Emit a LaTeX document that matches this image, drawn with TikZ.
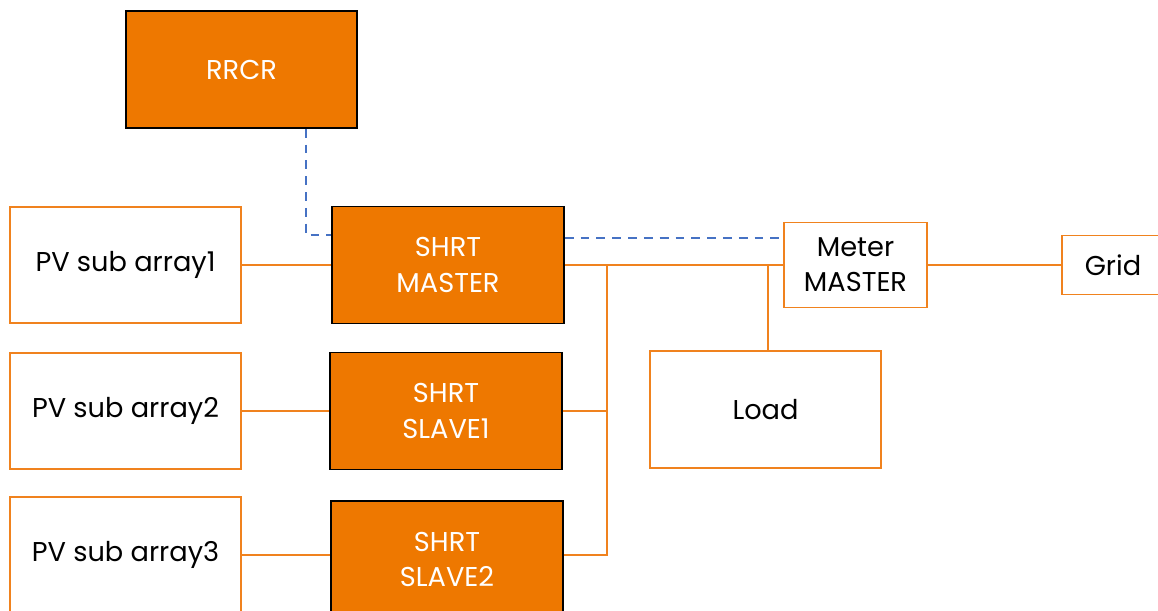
\documentclass[tikz,border=0pt]{standalone}
\usepackage{fontspec}
\setmainfont{Poppins}
\definecolor{boxorange}{RGB}{238,120,0}
\definecolor{lineorange}{RGB}{240,130,30}
\definecolor{ctrlblue}{RGB}{70,114,196}

\begin{document}
\begin{tikzpicture}[x = 0.02cm, y = -0.02cm,
    unit/.style = {draw = black, line width = 1pt, fill = boxorange, text = white,
      align = center, inner sep = 0pt, font = \fontsize{15.5}{20}\selectfont},
    plain/.style = {draw = lineorange, line width = .8pt, fill = white, text = black,
      align = center, inner sep = 0pt, font = \fontsize{15.5}{20}\selectfont},
    power/.style = {draw = lineorange, line width = 0.04cm},
    ctrl/.style = {draw = ctrlblue, line width = 0.04cm, dash pattern = on 5pt off 4pt}]

    \useasboundingbox (0,0) rectangle (1158,611);
    \clip (0,0) rectangle (1158,611);

    % boxes
    \node [unit, minimum width = 4.62cm, minimum height = 2.34cm] (rrcr) at (241.5, 69.5) {RRCR};
    \node [unit, minimum width = 4.64cm, minimum height = 2.34cm] (master) at (448, 265) {SHRT\\MASTER};
    \node [unit, minimum width = 4.64cm, minimum height = 2.34cm] (slave1) at (446, 411) {SHRT\\SLAVE1};
    \node [unit, minimum width = 4.64cm, minimum height = 2.34cm] (slave2) at (447, 559.5) {SHRT\\SLAVE2};
    \foreach \i/\y in {1/265, 2/411, 3/555} {
      \node [plain, minimum width = 4.62cm, minimum height = 2.32cm] (pv\i) at (125.5, \y) {PV sub array\i};
    }
    \node [plain, minimum width = 2.86cm, minimum height = 1.7cm] (meter) at (855.5, 265) {Meter\\MASTER};
    \node [plain, minimum width = 4.62cm, minimum height = 2.34cm] (load) at (765.5, 409.5) {Load};
    \node [plain, minimum width = 2.04cm, minimum height = 1.18cm] (grid) at (1113, 265) {Grid};

    % power lines
    \coordinate (bus) at (607, 265);
    \draw [power] (pv1.east) -- (master.west);
    \draw [power] (pv2.east) -- (slave1.west);
    \draw [power] (pv3.east) -- (pv3.east -| slave2.west);
    \draw [power] (master.east) -- (meter.west);
    \draw [power] (slave1.east) -- (slave1.east -| bus);
    \draw [power] (slave2.east |- pv3.east) -| (bus);
    \draw [power] (load.north -| 768,0) -- (bus -| 768,0);
    \draw [power] (meter.east) -- (grid.west);

    % control lines
    \coordinate (c1) at (306, 235);
    \coordinate (c2) at (674, 238);
    \draw [ctrl] (rrcr.south -| c1) -- (c1) -- (c1 -| master.west);
    \draw [ctrl] (c2 -| master.east) -- (c2 -| meter.west);
\end{tikzpicture}
\end{document}
